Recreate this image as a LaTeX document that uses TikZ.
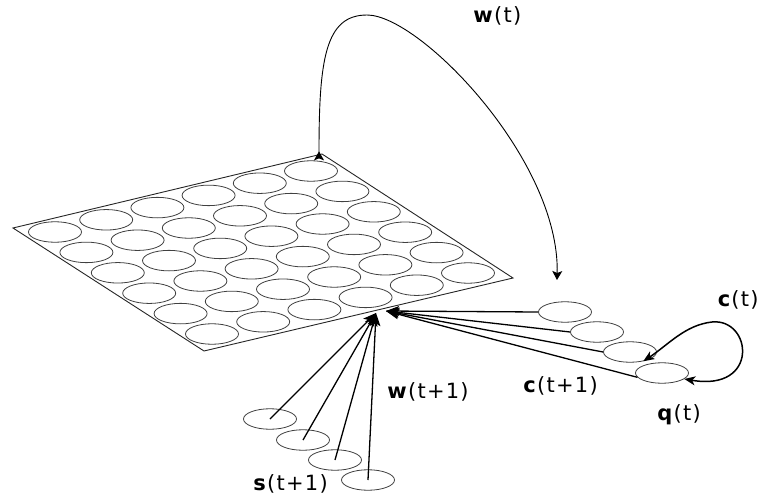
\documentclass[tikz,border=0pt]{standalone}
\usepackage{fontspec}
\setmainfont{DejaVu Sans}[LetterSpace=6]
\usetikzlibrary{arrows.meta, shapes.geometric, calc}
\tikzset{
  every picture/.style={line width=0.8pt},
  cell/.style={draw=black!75, fill=white, ellipse, minimum width=53pt, minimum height=20.5pt, inner sep=0pt},
  sheet/.style={draw=black!85, fill=white, line width=0.9pt},
  feed/.style={-{Stealth[length=13pt, width=10pt, inset=3pt]}, line width=1.3pt},
  recur/.style={{Stealth[length=9pt, width=10pt, inset=2pt, reversed]}-{Stealth[length=9pt, width=10pt, inset=2pt]}, line width=0.9pt},
  ctxloop/.style={{Stealth[length=11pt, width=9pt, inset=3pt]}-{Stealth[length=11pt, width=9pt, inset=3pt]}, line width=1.5pt},
  lbl/.style={font=\fontsize{21}{25}\selectfont, inner sep=0pt, anchor=west},
}
\begin{document}
\begin{tikzpicture}[x=1pt, y=-1pt]
  \useasboundingbox (0,0) rectangle (761,495);
  % the map
  \draw[sheet] (13,228) -- (322,154) -- (513,278) -- (204,351) -- cycle;
  \foreach \i in {0,...,5}
    \foreach \j in {0,...,5}
      \node[cell] (g-\i-\j) at ({55+51.2*\i+31.4*\j},{232-12.2*\i+20.4*\j}) {};
  % input and context units
  \node[cell] (s1) at (270,419) {};
  \node[cell] (s2) at (303,440) {};
  \node[cell] (s3) at (335,460) {};
  \node[cell] (s4) at (368,480) {};
  \node[cell] (c1) at (565,312) {};
  \node[cell] (c2) at (597,332) {};
  \node[cell] (c3) at (630,352) {};
  \node[cell] (q1) at (662,373) {};
  \coordinate (hubs) at (376,313);
  \coordinate (hubc) at (386,311);
  \coordinate (drop) at (557,280);
  % connections
  \foreach \n in {s1,s2,s3,s4} \draw[feed] (\n.center) -- (hubs);
  \foreach \n in {c1,c2,c3} \draw[feed] (\n.west) -- (hubc);
  \draw[feed] (q1.190) -- (hubc);
  \draw[recur] ([xshift=8pt]g-5-0.north) .. controls (319,60) and (325,15) .. (367,15)
    .. controls (420,15) and (560,160) .. (drop);
  \draw[ctxloop] (q1.-15) .. controls (760,392) and (752,318) .. (712,322)
    .. controls (685,325) and (668,345) .. (c3.-35);
  % labels
  \node[lbl] (lw) at (473,16) {\textbf{w}(t)};
  \node[lbl] (lw1) at (387,392) {\textbf{w}(t+1)};
  \node[lbl] (lc1) at (523,386) {\textbf{c}(t+1)};
  \node[lbl] (lq) at (657,415) {\textbf{q}(t)};
  \node[lbl, anchor=east] (lc) at (759,300) {\textbf{c}(t)};
  \node[lbl] (ls) at (253,484) {\textbf{s}(t+1)};
\end{tikzpicture}
\end{document}
